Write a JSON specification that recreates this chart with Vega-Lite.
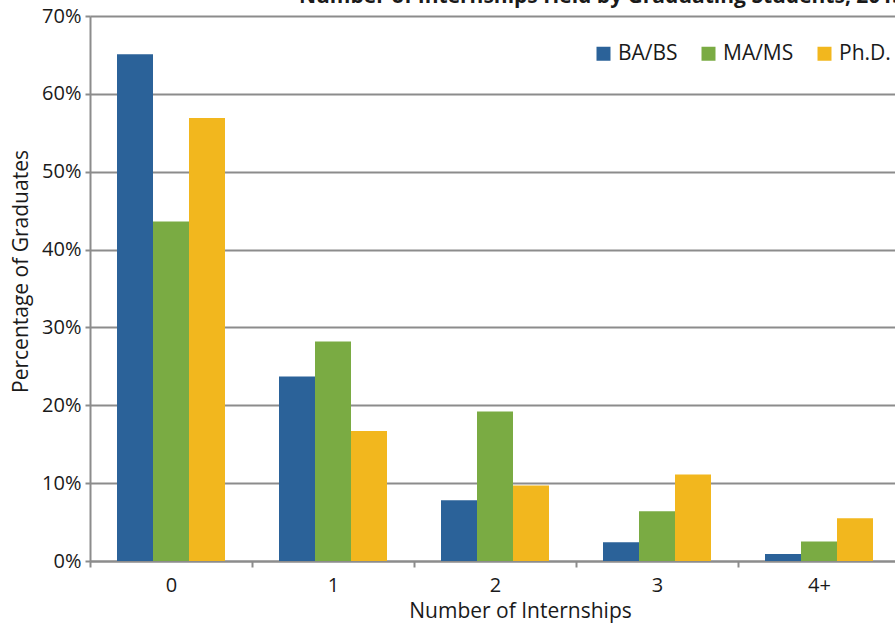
{
  "$schema": "https://vega.github.io/schema/vega-lite/v6.json",
  "width": 805,
  "height": 545,
  "autosize": {"type": "none"},
  "padding": {"top": 16, "left": 90, "right": 0, "bottom": 66},
  "background": "white",
  "title": {
    "text": "Number of Internships Held by Graduating Students, 2013",
    "anchor": "start",
    "frame": "group",
    "dx": 209,
    "dy": 18,
    "fontSize": 21,
    "fontWeight": "bold",
    "font": "Open Sans",
    "color": "#1a1a1a",
    "baseline": "alphabetic",
    "offset": 0
  },
  "data": {
    "values": [
      {"n": "0", "degree": "BA/BS", "pct": 0.651},
      {"n": "0", "degree": "MA/MS", "pct": 0.436},
      {"n": "0", "degree": "Ph.D.", "pct": 0.569},
      {"n": "1", "degree": "BA/BS", "pct": 0.237},
      {"n": "1", "degree": "MA/MS", "pct": 0.282},
      {"n": "1", "degree": "Ph.D.", "pct": 0.167},
      {"n": "2", "degree": "BA/BS", "pct": 0.078},
      {"n": "2", "degree": "MA/MS", "pct": 0.192},
      {"n": "2", "degree": "Ph.D.", "pct": 0.097},
      {"n": "3", "degree": "BA/BS", "pct": 0.024},
      {"n": "3", "degree": "MA/MS", "pct": 0.064},
      {"n": "3", "degree": "Ph.D.", "pct": 0.111},
      {"n": "4+", "degree": "BA/BS", "pct": 0.009},
      {"n": "4+", "degree": "MA/MS", "pct": 0.025},
      {"n": "4+", "degree": "Ph.D.", "pct": 0.055}
    ]
  },
  "mark": {"type": "bar", "strokeWidth": 0},
  "encoding": {
    "x": {
      "field": "n",
      "type": "nominal",
      "sort": ["0", "1", "2", "3", "4+"],
      "scale": {"paddingInner": 0, "paddingOuter": 0, "range": [0, 810]},
      "axis": {
        "title": "Number of Internships",
        "titleX": 430,
        "titlePadding": 5,
        "labelAngle": 0,
        "labelPadding": 8,
        "tickBand": "extent",
        "tickSize": 6,
        "tickWidth": 2,
        "tickColor": "#8c8c8c",
        "domainColor": "#8c8c8c",
        "domainWidth": 2,
        "grid": false
      }
    },
    "xOffset": {
      "field": "degree",
      "type": "nominal",
      "sort": ["BA/BS", "MA/MS", "Ph.D."],
      "scale": {"paddingInner": 0, "paddingOuter": 0.75}
    },
    "y": {
      "field": "pct",
      "type": "quantitative",
      "scale": {"domain": [0, 0.7], "nice": false},
      "axis": {
        "title": "Percentage of Graduates",
        "titleY": 255,
        "titlePadding": 10,
        "format": ".0%",
        "values": [0, 0.1, 0.2, 0.3, 0.4, 0.5, 0.6, 0.7],
        "labelPadding": 4,
        "tickSize": 5,
        "tickWidth": 2,
        "tickColor": "#8c8c8c",
        "domainColor": "#8c8c8c",
        "domainWidth": 2,
        "grid": true,
        "gridColor": "#8c8c8c",
        "gridWidth": 2
      }
    },
    "color": {
      "field": "degree",
      "type": "nominal",
      "sort": ["BA/BS", "MA/MS", "Ph.D."],
      "scale": {"domain": ["BA/BS", "MA/MS", "Ph.D."], "range": ["#2B6299", "#7AAB43", "#F2B71E"]},
      "legend": {
        "title": null,
        "orient": "none",
        "legendX": 503,
        "legendY": 27,
        "direction": "horizontal",
        "symbolType": "square",
        "symbolSize": 196,
        "symbolStrokeWidth": 0,
        "symbolOpacity": 1,
        "labelFontSize": 21,
        "labelOffset": 4,
        "columnPadding": 20,
        "padding": 0
      }
    }
  },
  "config": {
    "font": "Open Sans",
    "view": {"stroke": null},
    "axis": {
      "labelFontSize": 20,
      "titleFontSize": 21,
      "titleFontWeight": "normal",
      "labelColor": "#1a1a1a",
      "titleColor": "#1a1a1a"
    },
    "legend": {"labelColor": "#1a1a1a"}
  }
}
